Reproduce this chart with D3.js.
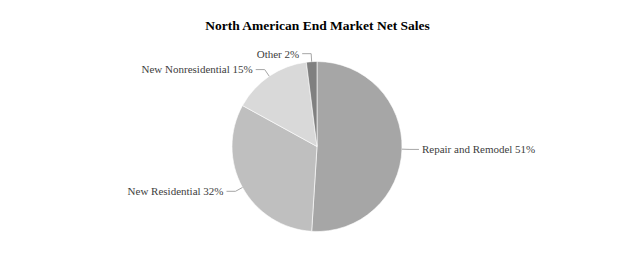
<!DOCTYPE html>
<html>
<head>
<meta charset="utf-8">
<script src="https://cdn.jsdelivr.net/npm/d3@7/dist/d3.min.js"></script>
<style>
html,body{margin:0;padding:0;background:#fff;}
svg{display:block;}
</style>
</head>
<body>
<svg id="chart" width="633" height="268"></svg>
<script>
const title = "North American End Market Net Sales";
const categories = ["Repair and Remodel", "New Residential", "New Nonresidential", "Other"];
const values = [51, 32, 15, 2];
const colors = ["#a6a6a6", "#bfbfbf", "#d9d9d9", "#808080"];

const W = 633, H = 268;
const cx = 317, cy = 146.5, r = 85;
const svg = d3.select("#chart");

svg.append("text")
  .attr("x", W / 2 + 1).attr("y", 30)
  .attr("text-anchor", "middle")
  .attr("font-family", "'Liberation Serif', 'Times New Roman', serif")
  .attr("font-weight", "bold")
  .attr("font-size", 13.5)
  .attr("fill", "#000")
  .text(title);

const data = categories.map((c, i) => ({ name: c, value: values[i], color: colors[i] }));
const pie = d3.pie().value(d => d.value).sort(null);
const arcs = pie(data);
const arc = d3.arc().innerRadius(0).outerRadius(r);

const g = svg.append("g").attr("transform", `translate(${cx},${cy})`);
g.selectAll("path.slice").data(arcs).enter().append("path")
  .attr("class", "slice")
  .attr("d", arc)
  .attr("fill", d => d.data.color)
  .attr("stroke", "#ffffff")
  .attr("stroke-width", 0.6);

const lg = g.append("g");
arcs.forEach(a => {
  const mid = (a.startAngle + a.endAngle) / 2;
  const sx = Math.sin(mid), sy = -Math.cos(mid);
  const p0 = [sx * r, sy * r];
  const p1 = [sx * (r + 8), sy * (r + 8)];
  const side = sx >= 0 ? 1 : -1;
  const p2 = [p1[0] + side * 9, p1[1]];
  lg.append("polyline")
    .attr("points", [p0, p1, p2].map(p => p.join(",")).join(" "))
    .attr("fill", "none")
    .attr("stroke", "#a6a6a6")
    .attr("stroke-width", 1);
  lg.append("text")
    .attr("x", p2[0] + side * 3)
    .attr("y", p2[1])
    .attr("dy", "0.35em")
    .attr("text-anchor", side > 0 ? "start" : "end")
    .attr("font-family", "'Liberation Serif', 'Times New Roman', serif")
    .attr("font-size", 11)
    .attr("fill", "#404040")
    .text(`${a.data.name} ${a.data.value}%`);
});
</script>
</body>
</html>
